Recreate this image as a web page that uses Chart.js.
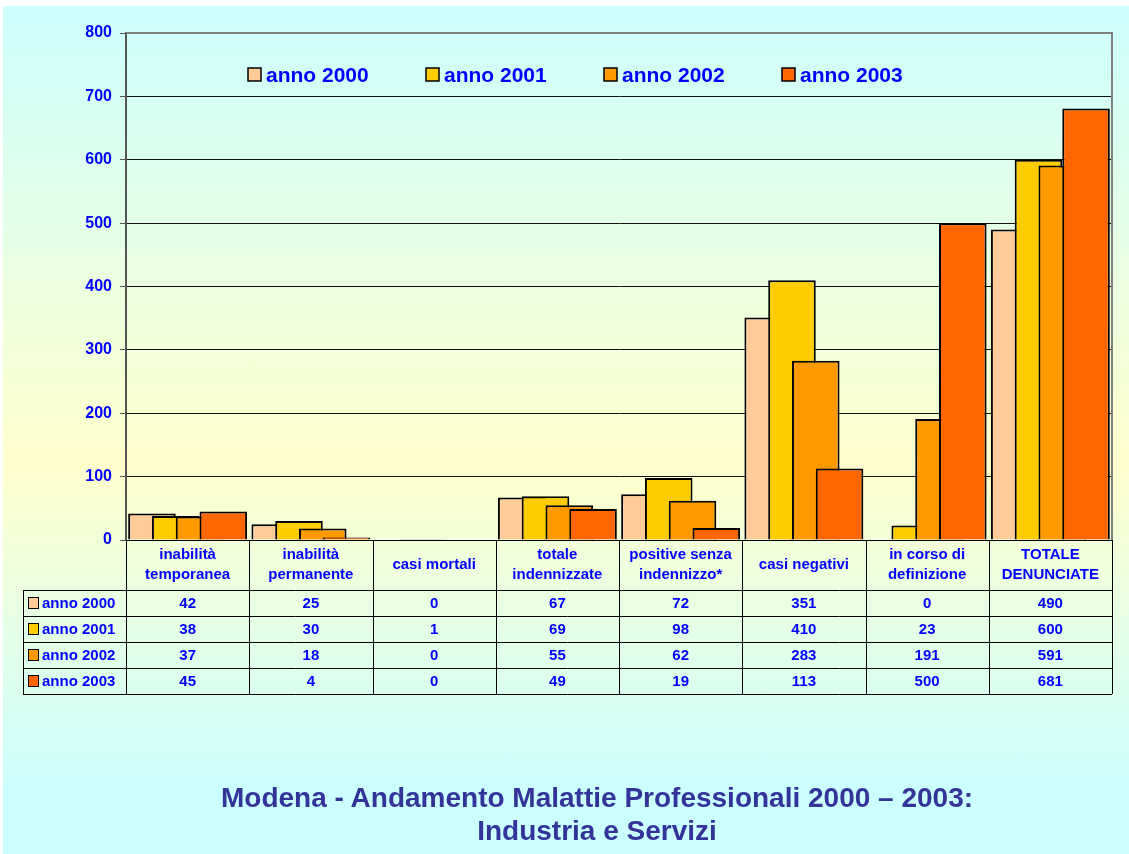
<!DOCTYPE html>
<html lang="it">
<head>
<meta charset="UTF-8">
<title>Modena - Andamento Malattie Professionali 2000 – 2003</title>
<script src="https://cdn.jsdelivr.net/npm/chart.js"></script>
<style>
  html, body { margin: 0; padding: 0; background: #fff; }
  #sfondo {
    position: absolute; left: 3px; top: 6px; width: 1126px; height: 848px;
    background: linear-gradient(to bottom, #ccffff 0%, #ffffcc 54%, #ccffff 92%, #ccffff 100%);
  }
  #grafico { position: absolute; left: 0; top: 0; }
  #titolo {
    position: absolute; left: 0; top: 781px; width: 1194px;
    text-align: center; color: #333399;
    font: bold 28px "Liberation Sans", Arial, sans-serif; line-height: 33px;
  }
</style>
</head>
<body>
<div id="sfondo"></div>
<canvas id="grafico" width="1129" height="854"></canvas>
<div id="titolo">Modena - Andamento Malattie Professionali 2000 – 2003:<br>Industria e Servizi</div>

<script>
  // categorie (righe dell'intestazione della tabella)
  const categorie = [
    ['inabilità', 'temporanea'],
    ['inabilità', 'permanente'],
    ['casi mortali'],
    ['totale', 'indennizzate'],
    ['positive senza', 'indennizzo*'],
    ['casi negativi'],
    ['in corso di', 'definizione'],
    ['TOTALE', 'DENUNCIATE']
  ];
  const anni = ['anno 2000', 'anno 2001', 'anno 2002', 'anno 2003'];
  const colori = ['#ffcc99', '#ffcc00', '#ff9900', '#ff6600'];
  const anno2000 = [42, 25, 0, 67, 72, 351, 0, 490];
  const anno2001 = [38, 30, 1, 69, 98, 410, 23, 600];
  const anno2002 = [37, 18, 0, 55, 62, 283, 191, 591];
  const anno2003 = [45, 4, 0, 49, 19, 113, 500, 681];
  const valori = [anno2000, anno2001, anno2002, anno2003];
  const tickY = [0, 100, 200, 300, 400, 500, 600, 700, 800];

  const FONT = '"Liberation Sans", Arial, sans-serif';
  const BLU = '#0000ff';

  // le barre degli anni successivi vanno disegnate sopra le precedenti
  const ordineBarre = {
    id: 'ordineBarre',
    beforeDatasetsDraw(chart) {
      chart.getSortedVisibleDatasetMetas().forEach(m => m.controller.draw());
      return false;
    }
  };

  const tabella = {
    id: 'tabella',
    afterDraw(chart) {
      const ctx = chart.ctx, sx = chart.scales.x, a = chart.chartArea;
      const n = chart.data.labels.length;
      const cw = (a.right - a.left) / n;
      const top = a.bottom, headH = 50, rowH = 26, left = 23;
      const nr = chart.data.datasets.length;
      const bottom = top + headH + rowH * nr;
      ctx.save();

      // bordo destro e superiore dell'area
      ctx.strokeStyle = '#808080';
      ctx.lineWidth = 2;
      ctx.beginPath();
      ctx.moveTo(a.left, a.top); ctx.lineTo(a.right, a.top); ctx.lineTo(a.right, top);
      ctx.stroke();

      // legenda interna
      const lx0 = 248, lstep = 178, ly = 75;
      chart.data.datasets.forEach((ds, i) => {
        const lx = lx0 + lstep * i;
        ctx.fillStyle = ds.backgroundColor;
        ctx.fillRect(lx, ly - 7, 13, 13);
        ctx.strokeStyle = '#000'; ctx.lineWidth = 1.5;
        ctx.strokeRect(lx, ly - 7, 13, 13);
        ctx.fillStyle = BLU;
        ctx.font = 'bold 21px ' + FONT;
        ctx.textAlign = 'left'; ctx.textBaseline = 'middle';
        ctx.fillText(ds.label, lx + 18, ly + 1);
      });

      // griglia della tabella
      ctx.strokeStyle = '#000';
      ctx.lineWidth = 1;
      ctx.beginPath();
      ctx.moveTo(a.left, top + 0.5); ctx.lineTo(a.right, top + 0.5);
      for (let r = 0; r <= nr; r++) {
        const y = Math.round(top + headH + rowH * r) + 0.5;
        ctx.moveTo(left, y); ctx.lineTo(a.right, y);
      }
      for (let i = 0; i <= n; i++) {
        const x = Math.round(a.left + cw * i) + 0.5;
        ctx.moveTo(x, top); ctx.lineTo(x, bottom);
      }
      ctx.moveTo(left + 0.5, top + headH); ctx.lineTo(left + 0.5, bottom);
      ctx.stroke();

      ctx.fillStyle = BLU;
      ctx.font = 'bold 15px ' + FONT;
      ctx.textAlign = 'center';
      ctx.textBaseline = 'middle';
      chart.data.labels.forEach((lab, i) => {
        const cx = sx.getPixelForValue(i);
        const righe = Array.isArray(lab) ? lab : [lab];
        righe.forEach((t, j) => {
          ctx.fillText(t, cx, top + headH / 2 + (j - (righe.length - 1) / 2) * 20);
        });
      });

      chart.data.datasets.forEach((ds, r) => {
        const cy = top + headH + rowH * r + rowH / 2;
        ctx.fillStyle = BLU;
        ctx.textAlign = 'center';
        ds.data.forEach((v, i) => ctx.fillText(String(v), sx.getPixelForValue(i), cy + 1));
        ctx.fillStyle = ds.backgroundColor;
        ctx.fillRect(28, cy - 5, 10, 11);
        ctx.strokeStyle = '#000';
        ctx.strokeRect(28.5, cy - 5.5, 10, 11);
        ctx.fillStyle = BLU;
        ctx.textAlign = 'left';
        ctx.fillText(ds.label, 42, cy + 1);
      });
      ctx.restore();
    }
  };

  new Chart(document.getElementById('grafico'), {
    type: 'bar',
    data: {
      labels: categorie,
      datasets: anni.map((nome, i) => ({
        label: nome,
        data: valori[i],
        backgroundColor: colori[i],
        borderColor: '#000',
        borderWidth: 2,
        categoryPercentage: 0.772,
        barPercentage: 2
      }))
    },
    options: {
      responsive: false,
      animation: false,
      events: [],
      layout: { padding: { left: 0, right: 17, top: 33, bottom: 314 } },
      plugins: { legend: { display: false }, tooltip: { enabled: false } },
      scales: {
        x: { display: false },
        y: {
          min: 0, max: 800,
          afterBuildTicks(s) { s.ticks = tickY.map(v => ({ value: v })); },
          afterFit(s) { s.width = 126; },
          ticks: { color: BLU, padding: 8, font: { family: FONT, size: 16, weight: 'bold' } },
          grid: { color: '#111', lineWidth: 1, tickLength: 6, tickColor: '#555' },
          border: { color: '#555', width: 2 }
        }
      }
    },
    plugins: [ordineBarre, tabella]
  });
</script>
</body>
</html>
